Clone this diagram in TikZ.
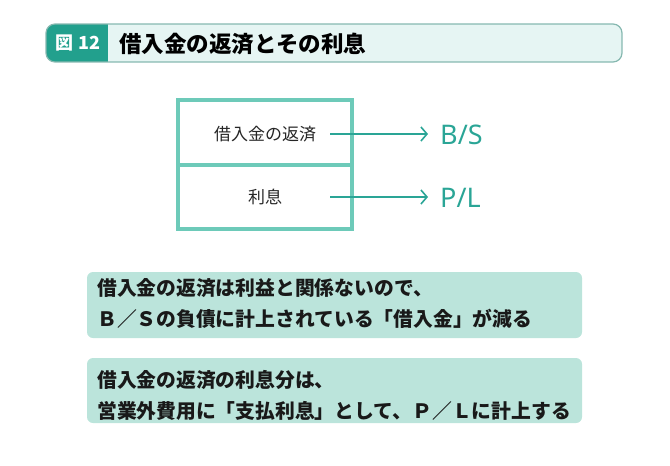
\documentclass[tikz,border=0pt]{standalone}
\usepackage{fontspec}
\setmainfont{Noto Sans CJK JP}
\newfontfamily\latinfont{Noto Sans}
\usetikzlibrary{arrows.meta}
\definecolor{darkteal}{HTML}{22A08D}
\definecolor{titlefill}{HTML}{E6F5F3}
\definecolor{titleborder}{HTML}{86B8B0}
\definecolor{boxline}{HTML}{6DCAB9}
\definecolor{arrowteal}{HTML}{2AA596}
\definecolor{notefill}{HTML}{BBE4DB}
\tikzset{
  tablebox/.style={draw=boxline, line width=4.5pt},
  celltext/.style={font=\fontsize{17}{20}\selectfont, text=black!85},
  outlabel/.style={font=\latinfont\fontsize{27}{30}\selectfont, text=arrowteal, anchor=west, inner sep=0pt},
  arrowline/.style={draw=arrowteal, line width=1.6pt, -{Straight Barb[length=6pt,width=14pt,line width=1.6pt]}},
  notebox/.style={fill=notefill, rounded corners=6pt},
  notetext/.style={font=\bfseries\fontsize{19.8}{31}\selectfont, anchor=west, align=left, inner sep=0pt, text=black!90},
}
\begin{document}
\begin{tikzpicture}[x=1pt,y=-1pt]
\useasboundingbox (0,0) rectangle (670,466);
% title bar
\begin{scope}
\clip[rounded corners=9pt] (46,24) rectangle (622,62);
\fill[titlefill] (46,24) rectangle (622,62);
\fill[darkteal] (46,24) rectangle (108,62);
\end{scope}
\draw[titleborder, line width=1.2pt, rounded corners=9pt] (46,24) rectangle (622,62);
\node[text=white, font=\bfseries\fontsize{18}{20}\selectfont] (fig) at (78,43.5) {図 12};
\node[anchor=west, inner sep=0pt, font=\bfseries\fontsize{22.5}{25}\selectfont] (title) at (119,43.5) {借入金の返済とその利息};
% table
\draw[tablebox] (178,100) rectangle (352,229);
\draw[tablebox] (178,165) -- (352,165);
\node[celltext] (r1) at (265,134) {借入金の返済};
\node[celltext] (r2) at (265,197) {利息};
\coordinate (a1) at (330,134);
\coordinate (a2) at (330,197);
\node[outlabel] (bs) at (440,135) {B/S};
\node[outlabel] (pl) at (440,198) {P/L};
\draw[arrowline] (a1) -- ([xshift=-12pt]bs.west |- a1);
\draw[arrowline] (a2) -- ([xshift=-12pt]pl.west |- a2);
% notes
\fill[notebox] (87,272) rectangle (582,338);
\fill[notebox] (87,358) rectangle (582,423);
\node[notetext] (n1) at (97,303.5) {借入金の返済は利益と関係ないので、\\Ｂ／Ｓの負債に計上されている「借入金」が減る};
\node[notetext] (n2) at (97,395.5) {借入金の返済の利息分は、\\営業外費用に「支払利息」として、Ｐ／Ｌに計上する};
\end{tikzpicture}
\end{document}
